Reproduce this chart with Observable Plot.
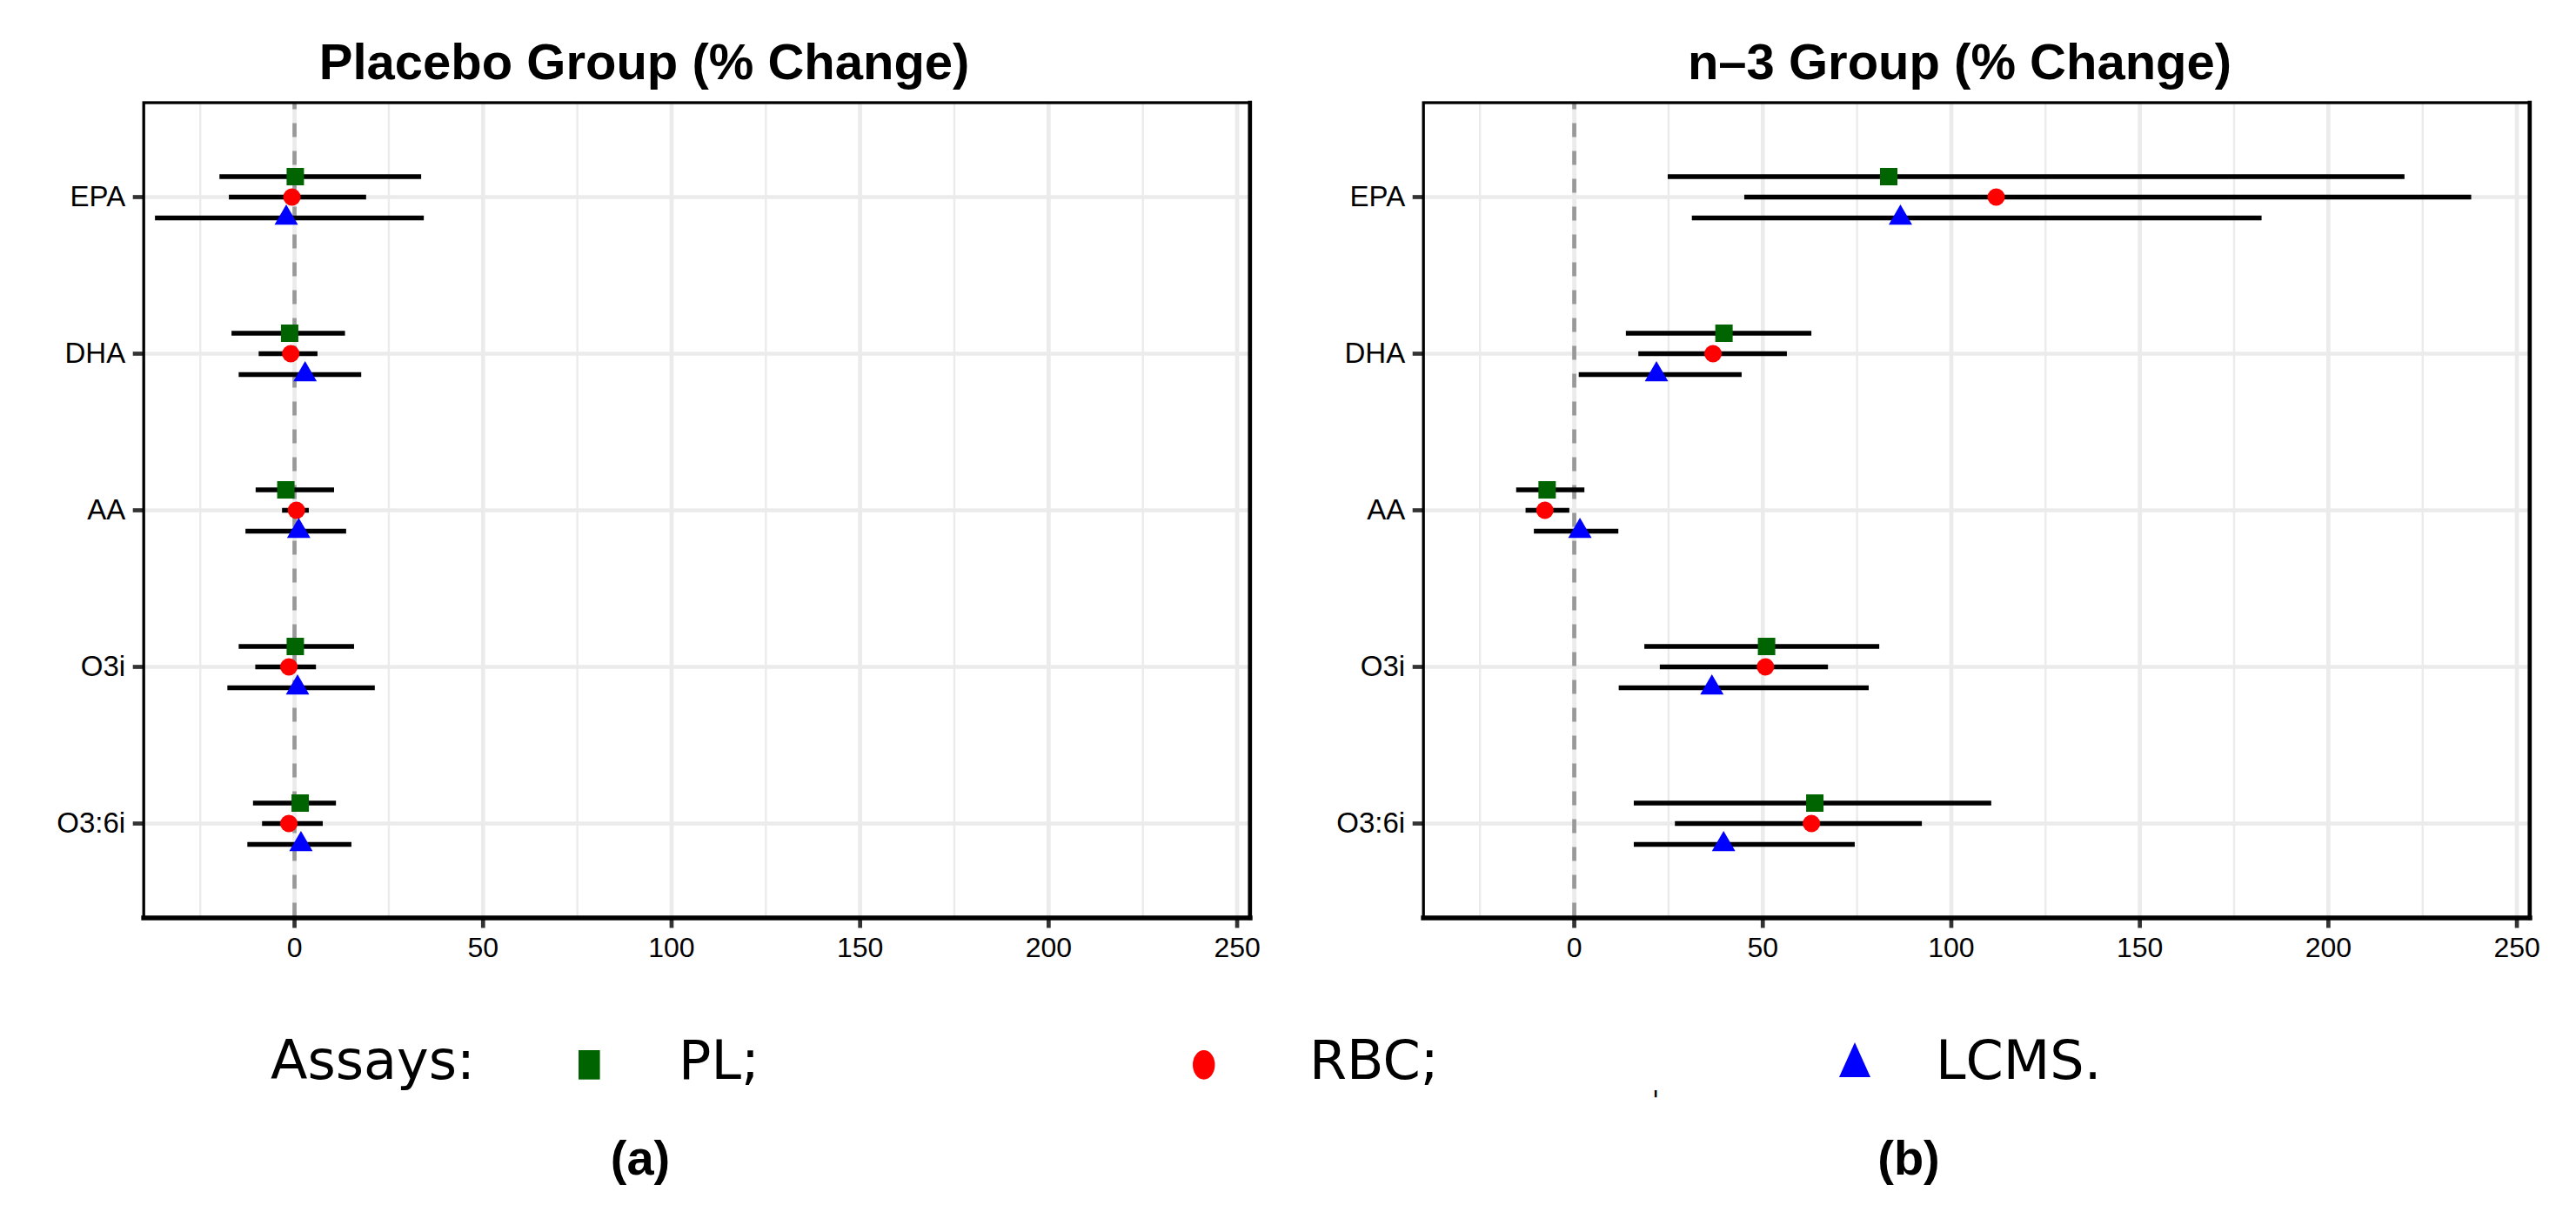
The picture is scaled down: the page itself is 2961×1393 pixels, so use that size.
<!DOCTYPE html>
<html>
<head>
<meta charset="utf-8">
<script src="https://cdn.jsdelivr.net/npm/d3@7"></script>
<script src="https://cdn.jsdelivr.net/npm/@observablehq/plot@0.6"></script>
<style>
  html, body { margin: 0; padding: 0; background: #fff; }
  #fig { position: relative; width: 2961px; height: 1393px; overflow: hidden; background: #fff; }
  .abs { position: absolute; white-space: nowrap; line-height: 1; color: #000; }
  .panel { position: absolute; top: 0; }
  .panel svg { max-width: none !important; }
  .title { font-family: 'Liberation Sans', Arial, Helvetica, sans-serif; font-weight: bold; font-size: 58px; text-align: center; width: 900px; }
  .sub { font-family: 'Liberation Sans', Arial, Helvetica, sans-serif; font-weight: bold; font-size: 56px; text-align: center; width: 200px; }
  .leg { font-family: 'DejaVu Sans', Verdana, sans-serif; font-size: 62px; }
</style>
</head>
<body>
<div id="fig"></div>
<script>
// ---------- data ----------
const categories = ["EPA", "DHA", "AA", "O3i", "O3:6i"];
const assays = ["PL", "RBC", "LCMS"];
const xTicks = [0, 50, 100, 150, 200, 250];
const xMinorTicks = [-25, 25, 75, 125, 175, 225];
const xDomain = [-40, 253.4];

// Placebo group (% change): estimate, lower, upper per category
const placeboPLEst   = [0.2, -1.3, -2.3, 0.2, 1.5];
const placeboPLLo    = [-19.8, -16.6, -10.2, -14.7, -10.9];
const placeboPLHi    = [33.7, 13.5, 10.6, 15.9, 11.1];
const placeboRBCEst  = [-0.7, -1.0, 0.5, -1.5, -1.5];
const placeboRBCLo   = [-17.3, -9.4, -3.2, -10.3, -8.5];
const placeboRBCHi   = [19.1, 6.2, 3.9, 5.8, 7.6];
const placeboLCMSEst = [-2.2, 2.8, 1.1, 0.8, 1.7];
const placeboLCMSLo  = [-36.9, -14.7, -12.9, -17.7, -12.4];
const placeboLCMSHi  = [34.4, 17.8, 13.8, 21.4, 15.2];

// n-3 group (% change)
const n3PLEst   = [83.4, 39.7, -7.2, 51.0, 63.8];
const n3PLLo    = [24.9, 13.8, -15.3, 18.7, 15.9];
const n3PLHi    = [220.3, 63.0, 2.8, 81.0, 110.7];
const n3RBCEst  = [111.9, 36.8, -7.8, 50.7, 62.9];
const n3RBCLo   = [45.2, 17.1, -12.8, 22.8, 26.8];
const n3RBCHi   = [238.0, 56.5, -1.2, 67.4, 92.3];
const n3LCMSEst = [86.5, 21.8, 1.5, 36.5, 39.6];
const n3LCMSLo  = [31.3, 1.3, -10.6, 11.9, 15.9];
const n3LCMSHi  = [182.4, 44.5, 11.8, 78.2, 74.5];

// ---------- build tables ----------
function buildRows(src) {
  return categories.flatMap((cat, i) =>
    assays.map((assay) => ({cat, assay, est: src[assay][0][i], lo: src[assay][1][i], hi: src[assay][2][i]}))
  );
}
const placeboRows = buildRows({
  PL: [placeboPLEst, placeboPLLo, placeboPLHi],
  RBC: [placeboRBCEst, placeboRBCLo, placeboRBCHi],
  LCMS: [placeboLCMSEst, placeboLCMSLo, placeboLCMSHi]
});
const n3Rows = buildRows({
  PL: [n3PLEst, n3PLLo, n3PLHi],
  RBC: [n3RBCEst, n3RBCLo, n3RBCHi],
  LCMS: [n3LCMSEst, n3LCMSLo, n3LCMSHi]
});

// ---------- styles ----------
const assayStyle = {
  PL:   {symbol: "square", r: 11.28, fill: "#006400", dy: -23.5},
  RBC:  {symbol: "circle", r: 10,    fill: "#ff0000", dy: 0},
  LCMS: {symbol: d3.symbolTriangle, r: 10, fill: "#0000ff", dy: 24}
};

function panel(rows, width, marginLeft, marginRight) {
  const marks = [
    Plot.gridX({ticks: xMinorTicks, stroke: "#EBEBEB", strokeOpacity: 1, strokeWidth: 2.4}),
    Plot.gridX({ticks: xTicks, stroke: "#EBEBEB", strokeOpacity: 1, strokeWidth: 4.7}),
    Plot.gridY({stroke: "#EBEBEB", strokeOpacity: 1, strokeWidth: 4.7}),
    Plot.ruleX([0], {stroke: "#999999", strokeWidth: 4.7, strokeDasharray: "16,16", strokeDashoffset: 8})
  ];
  for (const a of assays) {
    const s = assayStyle[a];
    const sub = rows.filter((d) => d.assay === a);
    marks.push(Plot.ruleY(sub, {y: "cat", x1: "lo", x2: "hi", dy: s.dy, stroke: "black", strokeWidth: 5.5}));
  }
  for (const a of assays) {
    const s = assayStyle[a];
    const sub = rows.filter((d) => d.assay === a);
    marks.push(Plot.dot(sub, {x: "est", y: "cat", dy: s.dy, symbol: s.symbol, r: s.r, fill: s.fill, stroke: "none"}));
  }
  marks.push(
    Plot.axisX({ticks: xTicks, tickSize: 12, tickPadding: 10, fontSize: 32, stroke: "#333333", strokeWidth: 4.7, label: null}),
    Plot.axisY({tickSize: 12, tickPadding: 9, fontSize: 33, stroke: "#333333", strokeWidth: 4.7, label: null}),
    Plot.frame({stroke: "black", strokeWidth: 3.3}),
    Plot.frame({anchor: "bottom", stroke: "black", strokeWidth: 5.7}),
    Plot.frame({anchor: "right", stroke: "black", strokeWidth: 4.7})
  );
  return Plot.plot({
    width,
    height: 1130,
    marginTop: 117.5,
    marginBottom: 75.5,
    marginLeft,
    marginRight,
    style: {fontFamily: "'Liberation Sans', Arial, Helvetica, sans-serif", color: "#000", background: "transparent", overflow: "visible"},
    x: {domain: xDomain, axis: null},
    y: {type: "point", domain: categories, padding: 0.6, axis: null},
    marks
  });
}

const fig = document.getElementById("fig");

function place(node, left) {
  const wrap = document.createElement("div");
  wrap.className = "panel";
  wrap.style.left = left + "px";
  wrap.appendChild(node);
  fig.appendChild(wrap);
}
place(panel(placeboRows, 1480, 164.7, 43.7), 0);
place(panel(n3Rows, 1481, 155.7, 53.7), 1480);

function text(cls, str, left, top) {
  const d = document.createElement("div");
  d.className = "abs " + cls;
  d.textContent = str;
  d.style.left = left + "px";
  d.style.top = top + "px";
  fig.appendChild(d);
  return d;
}
// titles (centered)
text("title", "Placebo Group (% Change)", 740.6 - 450, 42);
text("title", "n\u20133 Group (% Change)", 2252.5 - 450, 42);
// panel labels
text("sub", "(a)", 736 - 100, 1302.6);
text("sub", "(b)", 2194 - 100, 1302.6);
// legend
text("leg", "Assays:", 311, 1187.5);
text("leg", "PL;", 780, 1187.5);
text("leg", "RBC;", 1505, 1187.5);
text("leg", "LCMS.", 2225, 1187.5);
const stray = text("leg", "'", 1899, 1249.6);
stray.style.fontSize = "30px";

function swatch(svgInner, left, top, w, h) {
  const d = document.createElement("div");
  d.className = "abs";
  d.style.left = left + "px";
  d.style.top = top + "px";
  d.innerHTML = `<svg width="${w}" height="${h}" viewBox="0 0 ${w} ${h}" style="display:block">${svgInner}</svg>`;
  fig.appendChild(d);
}
swatch(`<rect x="0" y="0" width="24.6" height="33.7" fill="${assayStyle.PL.fill}"/>`, 665.4, 1207, 24.6, 33.7);
swatch(`<ellipse cx="12.75" cy="16.85" rx="12.75" ry="16.85" fill="${assayStyle.RBC.fill}"/>`, 1371.4, 1207, 25.5, 33.7);
swatch(`<polygon points="18,0 36,40 0,40" fill="${assayStyle.LCMS.fill}"/>`, 2114, 1198, 36, 40);
</script>
</body>
</html>
